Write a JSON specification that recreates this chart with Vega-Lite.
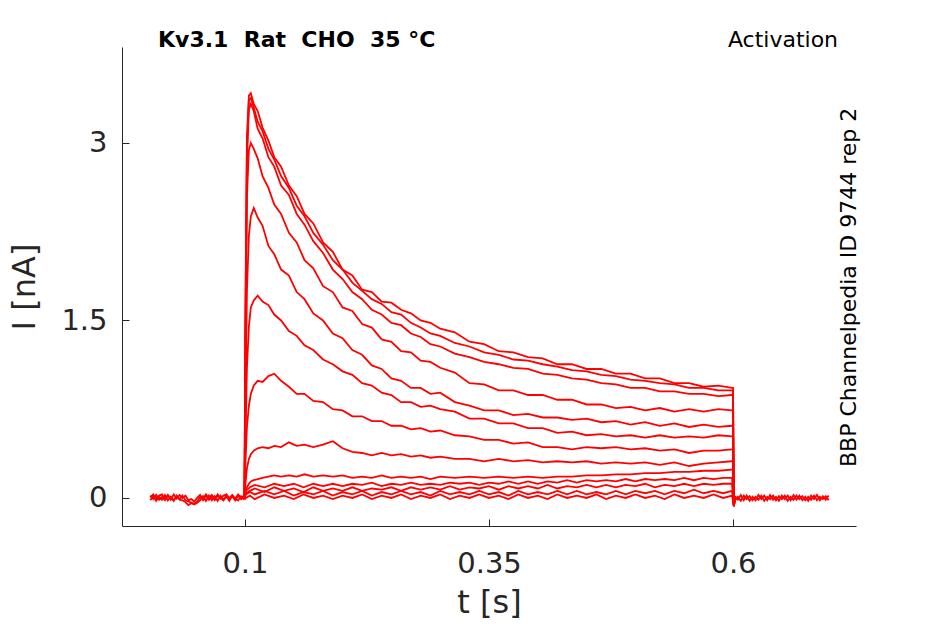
{
  "$schema": "https://vega.github.io/schema/vega-lite/v6.json",
  "description": "Kv3.1 activation current traces, Rat CHO 35 °C",
  "width": 734,
  "height": 479,
  "autosize": {"type": "none"},
  "padding": {"left": 122, "top": 47, "right": 89, "bottom": 98},
  "background": "white",
  "config": {"view": {"stroke": null}, "font": "DejaVu Sans"},
  "layer": [
    {
      "data": {"values": [
        {"s":"P1","t":0.003,"i":0.02},{"s":"P1","t":0.006,"i":-0.01},{"s":"P1","t":0.009,"i":0.025},{"s":"P1","t":0.012,"i":-0.015},{"s":"P1","t":0.015,"i":0.01},{"s":"P1","t":0.018,"i":-0.02},{"s":"P1","t":0.021,"i":0.02},{"s":"P1","t":0.024,"i":0.0},{"s":"P1","t":0.027,"i":-0.02},{"s":"P1","t":0.03,"i":0.015},{"s":"P1","t":0.033,"i":-0.01},{"s":"P1","t":0.036,"i":0.02},{"s":"P1","t":0.039,"i":-0.02},{"s":"P1","t":0.042,"i":-0.03},{"s":"P1","t":0.045,"i":-0.04},{"s":"P1","t":0.048,"i":-0.05},{"s":"P1","t":0.051,"i":-0.03},{"s":"P1","t":0.054,"i":0.01},{"s":"P1","t":0.057,"i":-0.02},{"s":"P1","t":0.06,"i":0.02},{"s":"P1","t":0.063,"i":-0.015},{"s":"P1","t":0.066,"i":0.01},{"s":"P1","t":0.069,"i":-0.02},{"s":"P1","t":0.072,"i":0.02},{"s":"P1","t":0.075,"i":0.0},{"s":"P1","t":0.078,"i":-0.02},{"s":"P1","t":0.081,"i":0.025},{"s":"P1","t":0.084,"i":-0.01},{"s":"P1","t":0.087,"i":0.015},{"s":"P1","t":0.09,"i":-0.02},{"s":"P1","t":0.093,"i":0.02},{"s":"P1","t":0.096,"i":-0.01},{"s":"P1","t":0.099,"i":0.01},
        {"s":"P2","t":0.003,"i":-0.02},{"s":"P2","t":0.006,"i":0.015},{"s":"P2","t":0.009,"i":-0.025},{"s":"P2","t":0.012,"i":0.01},{"s":"P2","t":0.015,"i":-0.015},{"s":"P2","t":0.018,"i":0.025},{"s":"P2","t":0.021,"i":-0.02},{"s":"P2","t":0.024,"i":0.01},{"s":"P2","t":0.027,"i":-0.025},{"s":"P2","t":0.03,"i":0.02},{"s":"P2","t":0.033,"i":-0.015},{"s":"P2","t":0.036,"i":-0.02},{"s":"P2","t":0.039,"i":-0.035},{"s":"P2","t":0.042,"i":-0.06},{"s":"P2","t":0.045,"i":-0.045},{"s":"P2","t":0.048,"i":-0.055},{"s":"P2","t":0.051,"i":-0.04},{"s":"P2","t":0.054,"i":-0.02},{"s":"P2","t":0.057,"i":0.015},{"s":"P2","t":0.06,"i":-0.025},{"s":"P2","t":0.063,"i":0.02},{"s":"P2","t":0.066,"i":-0.02},{"s":"P2","t":0.069,"i":0.015},{"s":"P2","t":0.072,"i":-0.025},{"s":"P2","t":0.075,"i":0.02},{"s":"P2","t":0.078,"i":-0.015},{"s":"P2","t":0.081,"i":0.01},{"s":"P2","t":0.084,"i":-0.025},{"s":"P2","t":0.087,"i":0.02},{"s":"P2","t":0.09,"i":-0.01},{"s":"P2","t":0.093,"i":-0.02},{"s":"P2","t":0.096,"i":0.015},{"s":"P2","t":0.099,"i":-0.015},
        {"s":"P3","t":0.003,"i":0.005},{"s":"P3","t":0.006,"i":0.03},{"s":"P3","t":0.009,"i":-0.005},{"s":"P3","t":0.012,"i":0.02},{"s":"P3","t":0.015,"i":0.03},{"s":"P3","t":0.018,"i":-0.01},{"s":"P3","t":0.021,"i":0.025},{"s":"P3","t":0.024,"i":-0.015},{"s":"P3","t":0.027,"i":0.03},{"s":"P3","t":0.03,"i":-0.005},{"s":"P3","t":0.033,"i":0.025},{"s":"P3","t":0.036,"i":0.0},{"s":"P3","t":0.039,"i":0.02},{"s":"P3","t":0.042,"i":-0.02},{"s":"P3","t":0.045,"i":-0.01},{"s":"P3","t":0.048,"i":-0.03},{"s":"P3","t":0.051,"i":0.0},{"s":"P3","t":0.054,"i":0.025},{"s":"P3","t":0.057,"i":-0.01},{"s":"P3","t":0.06,"i":0.03},{"s":"P3","t":0.063,"i":0.0},{"s":"P3","t":0.066,"i":0.025},{"s":"P3","t":0.069,"i":-0.01},{"s":"P3","t":0.072,"i":0.03},{"s":"P3","t":0.075,"i":-0.005},{"s":"P3","t":0.078,"i":0.02},{"s":"P3","t":0.081,"i":0.03},{"s":"P3","t":0.084,"i":0.0},{"s":"P3","t":0.087,"i":0.025},{"s":"P3","t":0.09,"i":-0.005},{"s":"P3","t":0.093,"i":0.03},{"s":"P3","t":0.096,"i":0.0},{"s":"P3","t":0.099,"i":0.02},
        {"s":"Q1","t":0.602,"i":-0.02},{"s":"Q1","t":0.605,"i":0.01},{"s":"Q1","t":0.608,"i":-0.025},{"s":"Q1","t":0.611,"i":0.02},{"s":"Q1","t":0.614,"i":-0.01},{"s":"Q1","t":0.617,"i":0.015},{"s":"Q1","t":0.62,"i":-0.02},{"s":"Q1","t":0.623,"i":0.01},{"s":"Q1","t":0.626,"i":-0.015},{"s":"Q1","t":0.629,"i":0.02},{"s":"Q1","t":0.632,"i":-0.025},{"s":"Q1","t":0.635,"i":0.01},{"s":"Q1","t":0.638,"i":-0.01},{"s":"Q1","t":0.641,"i":0.02},{"s":"Q1","t":0.644,"i":-0.02},{"s":"Q1","t":0.647,"i":0.015},{"s":"Q1","t":0.65,"i":-0.01},{"s":"Q1","t":0.653,"i":0.02},{"s":"Q1","t":0.656,"i":-0.025},{"s":"Q1","t":0.659,"i":0.01},{"s":"Q1","t":0.662,"i":-0.015},{"s":"Q1","t":0.665,"i":0.02},{"s":"Q1","t":0.668,"i":-0.01},{"s":"Q1","t":0.671,"i":0.015},{"s":"Q1","t":0.674,"i":-0.02},{"s":"Q1","t":0.677,"i":0.01},{"s":"Q1","t":0.68,"i":-0.015},{"s":"Q1","t":0.683,"i":0.02},{"s":"Q1","t":0.686,"i":-0.02},{"s":"Q1","t":0.689,"i":0.01},{"s":"Q1","t":0.692,"i":-0.01},{"s":"Q1","t":0.695,"i":0.015},{"s":"Q1","t":0.698,"i":-0.02},
        {"s":"Q2","t":0.602,"i":0.015},{"s":"Q2","t":0.605,"i":-0.015},{"s":"Q2","t":0.608,"i":0.025},{"s":"Q2","t":0.611,"i":-0.02},{"s":"Q2","t":0.614,"i":0.02},{"s":"Q2","t":0.617,"i":-0.025},{"s":"Q2","t":0.62,"i":0.01},{"s":"Q2","t":0.623,"i":-0.02},{"s":"Q2","t":0.626,"i":0.025},{"s":"Q2","t":0.629,"i":-0.01},{"s":"Q2","t":0.632,"i":0.02},{"s":"Q2","t":0.635,"i":-0.02},{"s":"Q2","t":0.638,"i":0.025},{"s":"Q2","t":0.641,"i":-0.015},{"s":"Q2","t":0.644,"i":0.01},{"s":"Q2","t":0.647,"i":-0.025},{"s":"Q2","t":0.65,"i":0.02},{"s":"Q2","t":0.653,"i":-0.01},{"s":"Q2","t":0.656,"i":0.02},{"s":"Q2","t":0.659,"i":-0.02},{"s":"Q2","t":0.662,"i":0.025},{"s":"Q2","t":0.665,"i":-0.015},{"s":"Q2","t":0.668,"i":0.02},{"s":"Q2","t":0.671,"i":-0.02},{"s":"Q2","t":0.674,"i":0.01},{"s":"Q2","t":0.677,"i":-0.025},{"s":"Q2","t":0.68,"i":0.02},{"s":"Q2","t":0.683,"i":-0.01},{"s":"Q2","t":0.686,"i":0.025},{"s":"Q2","t":0.689,"i":-0.02},{"s":"Q2","t":0.692,"i":0.015},{"s":"Q2","t":0.695,"i":-0.015},{"s":"Q2","t":0.698,"i":0.02},
        {"s":"A","t":0.0995,"i":0.01},{"s":"A","t":0.1005,"i":1.6},{"s":"A","t":0.102,"i":3.05},{"s":"A","t":0.104,"i":3.4},{"s":"A","t":0.106,"i":3.42},{"s":"A","t":0.109,"i":3.33},{"s":"A","t":0.113,"i":3.27},{"s":"A","t":0.118,"i":3.13},{"s":"A","t":0.124,"i":3.02},{"s":"A","t":0.13,"i":2.88},{"s":"A","t":0.137,"i":2.8},{"s":"A","t":0.145,"i":2.64},{"s":"A","t":0.153,"i":2.55},{"s":"A","t":0.161,"i":2.4},{"s":"A","t":0.17,"i":2.32},{"s":"A","t":0.18,"i":2.16},{"s":"A","t":0.19,"i":2.08},{"s":"A","t":0.2,"i":1.93},{"s":"A","t":0.21,"i":1.88},{"s":"A","t":0.22,"i":1.76},{"s":"A","t":0.23,"i":1.74},{"s":"A","t":0.24,"i":1.66},{"s":"A","t":0.25,"i":1.65},{"s":"A","t":0.26,"i":1.59},{"s":"A","t":0.27,"i":1.56},{"s":"A","t":0.28,"i":1.5},{"s":"A","t":0.29,"i":1.48},{"s":"A","t":0.3,"i":1.43},{"s":"A","t":0.315,"i":1.4},{"s":"A","t":0.33,"i":1.32},{"s":"A","t":0.345,"i":1.3},{"s":"A","t":0.36,"i":1.24},{"s":"A","t":0.375,"i":1.23},{"s":"A","t":0.39,"i":1.19},{"s":"A","t":0.405,"i":1.18},{"s":"A","t":0.42,"i":1.13},{"s":"A","t":0.435,"i":1.13},{"s":"A","t":0.45,"i":1.09},{"s":"A","t":0.465,"i":1.09},{"s":"A","t":0.48,"i":1.05},{"s":"A","t":0.495,"i":1.05},{"s":"A","t":0.51,"i":1.01},{"s":"A","t":0.525,"i":1.01},{"s":"A","t":0.54,"i":0.97},{"s":"A","t":0.555,"i":0.97},{"s":"A","t":0.57,"i":0.94},{"s":"A","t":0.585,"i":0.95},{"s":"A","t":0.599,"i":0.93},{"s":"A","t":0.6,"i":0.93},{"s":"A","t":0.6008,"i":-0.07},{"s":"A","t":0.602,"i":-0.01},
        {"s":"B","t":0.0995,"i":-0.01},{"s":"B","t":0.1005,"i":1.5},{"s":"B","t":0.102,"i":2.95},{"s":"B","t":0.104,"i":3.36},{"s":"B","t":0.106,"i":3.38},{"s":"B","t":0.109,"i":3.3},{"s":"B","t":0.113,"i":3.18},{"s":"B","t":0.118,"i":3.1},{"s":"B","t":0.124,"i":2.95},{"s":"B","t":0.13,"i":2.86},{"s":"B","t":0.137,"i":2.72},{"s":"B","t":0.145,"i":2.62},{"s":"B","t":0.153,"i":2.47},{"s":"B","t":0.161,"i":2.38},{"s":"B","t":0.17,"i":2.24},{"s":"B","t":0.18,"i":2.14},{"s":"B","t":0.19,"i":2.01},{"s":"B","t":0.2,"i":1.93},{"s":"B","t":0.21,"i":1.82},{"s":"B","t":0.22,"i":1.75},{"s":"B","t":0.23,"i":1.68},{"s":"B","t":0.24,"i":1.64},{"s":"B","t":0.25,"i":1.57},{"s":"B","t":0.26,"i":1.55},{"s":"B","t":0.27,"i":1.48},{"s":"B","t":0.28,"i":1.44},{"s":"B","t":0.29,"i":1.39},{"s":"B","t":0.3,"i":1.37},{"s":"B","t":0.315,"i":1.31},{"s":"B","t":0.33,"i":1.28},{"s":"B","t":0.345,"i":1.23},{"s":"B","t":0.36,"i":1.21},{"s":"B","t":0.375,"i":1.17},{"s":"B","t":0.39,"i":1.16},{"s":"B","t":0.405,"i":1.13},{"s":"B","t":0.42,"i":1.11},{"s":"B","t":0.435,"i":1.08},{"s":"B","t":0.45,"i":1.07},{"s":"B","t":0.465,"i":1.04},{"s":"B","t":0.48,"i":1.03},{"s":"B","t":0.495,"i":1.0},{"s":"B","t":0.51,"i":0.99},{"s":"B","t":0.525,"i":0.97},{"s":"B","t":0.54,"i":0.96},{"s":"B","t":0.555,"i":0.93},{"s":"B","t":0.57,"i":0.93},{"s":"B","t":0.585,"i":0.91},{"s":"B","t":0.599,"i":0.91},{"s":"B","t":0.6,"i":0.91},{"s":"B","t":0.6008,"i":-0.06},{"s":"B","t":0.602,"i":0.0},
        {"s":"C","t":0.0995,"i":0.0},{"s":"C","t":0.1005,"i":1.4},{"s":"C","t":0.102,"i":2.85},{"s":"C","t":0.104,"i":3.28},{"s":"C","t":0.106,"i":3.33},{"s":"C","t":0.109,"i":3.27},{"s":"C","t":0.113,"i":3.12},{"s":"C","t":0.118,"i":3.04},{"s":"C","t":0.124,"i":2.88},{"s":"C","t":0.13,"i":2.8},{"s":"C","t":0.137,"i":2.64},{"s":"C","t":0.145,"i":2.56},{"s":"C","t":0.153,"i":2.4},{"s":"C","t":0.161,"i":2.31},{"s":"C","t":0.17,"i":2.17},{"s":"C","t":0.18,"i":2.07},{"s":"C","t":0.19,"i":1.93},{"s":"C","t":0.2,"i":1.85},{"s":"C","t":0.21,"i":1.74},{"s":"C","t":0.22,"i":1.68},{"s":"C","t":0.23,"i":1.59},{"s":"C","t":0.24,"i":1.55},{"s":"C","t":0.25,"i":1.48},{"s":"C","t":0.26,"i":1.46},{"s":"C","t":0.27,"i":1.39},{"s":"C","t":0.28,"i":1.36},{"s":"C","t":0.29,"i":1.3},{"s":"C","t":0.3,"i":1.28},{"s":"C","t":0.315,"i":1.22},{"s":"C","t":0.33,"i":1.19},{"s":"C","t":0.345,"i":1.15},{"s":"C","t":0.36,"i":1.13},{"s":"C","t":0.375,"i":1.1},{"s":"C","t":0.39,"i":1.09},{"s":"C","t":0.405,"i":1.05},{"s":"C","t":0.42,"i":1.04},{"s":"C","t":0.435,"i":1.01},{"s":"C","t":0.45,"i":1.0},{"s":"C","t":0.465,"i":0.97},{"s":"C","t":0.48,"i":0.96},{"s":"C","t":0.495,"i":0.93},{"s":"C","t":0.51,"i":0.93},{"s":"C","t":0.525,"i":0.9},{"s":"C","t":0.54,"i":0.9},{"s":"C","t":0.555,"i":0.88},{"s":"C","t":0.57,"i":0.88},{"s":"C","t":0.585,"i":0.86},{"s":"C","t":0.599,"i":0.87},{"s":"C","t":0.6,"i":0.87},{"s":"C","t":0.6008,"i":-0.07},{"s":"C","t":0.602,"i":-0.02},
        {"s":"D","t":0.0995,"i":0.01},{"s":"D","t":0.1005,"i":1.2},{"s":"D","t":0.102,"i":2.55},{"s":"D","t":0.104,"i":2.94},{"s":"D","t":0.106,"i":3.0},{"s":"D","t":0.109,"i":2.95},{"s":"D","t":0.113,"i":2.87},{"s":"D","t":0.118,"i":2.72},{"s":"D","t":0.124,"i":2.62},{"s":"D","t":0.13,"i":2.48},{"s":"D","t":0.137,"i":2.4},{"s":"D","t":0.145,"i":2.24},{"s":"D","t":0.153,"i":2.16},{"s":"D","t":0.161,"i":2.01},{"s":"D","t":0.17,"i":1.94},{"s":"D","t":0.18,"i":1.79},{"s":"D","t":0.19,"i":1.74},{"s":"D","t":0.2,"i":1.61},{"s":"D","t":0.21,"i":1.58},{"s":"D","t":0.22,"i":1.47},{"s":"D","t":0.23,"i":1.44},{"s":"D","t":0.24,"i":1.34},{"s":"D","t":0.25,"i":1.32},{"s":"D","t":0.26,"i":1.24},{"s":"D","t":0.27,"i":1.23},{"s":"D","t":0.28,"i":1.16},{"s":"D","t":0.29,"i":1.15},{"s":"D","t":0.3,"i":1.1},{"s":"D","t":0.315,"i":1.06},{"s":"D","t":0.33,"i":0.97},{"s":"D","t":0.345,"i":0.96},{"s":"D","t":0.36,"i":0.91},{"s":"D","t":0.375,"i":0.91},{"s":"D","t":0.39,"i":0.87},{"s":"D","t":0.405,"i":0.87},{"s":"D","t":0.42,"i":0.83},{"s":"D","t":0.435,"i":0.83},{"s":"D","t":0.45,"i":0.79},{"s":"D","t":0.465,"i":0.79},{"s":"D","t":0.48,"i":0.76},{"s":"D","t":0.495,"i":0.77},{"s":"D","t":0.51,"i":0.74},{"s":"D","t":0.525,"i":0.76},{"s":"D","t":0.54,"i":0.73},{"s":"D","t":0.555,"i":0.75},{"s":"D","t":0.57,"i":0.73},{"s":"D","t":0.585,"i":0.75},{"s":"D","t":0.599,"i":0.74},{"s":"D","t":0.6,"i":0.74},{"s":"D","t":0.6008,"i":-0.06},{"s":"D","t":0.602,"i":0.01},
        {"s":"E","t":0.0995,"i":-0.01},{"s":"E","t":0.1005,"i":0.8},{"s":"E","t":0.102,"i":1.75},{"s":"E","t":0.104,"i":2.22},{"s":"E","t":0.106,"i":2.38},{"s":"E","t":0.109,"i":2.45},{"s":"E","t":0.113,"i":2.37},{"s":"E","t":0.118,"i":2.3},{"s":"E","t":0.124,"i":2.13},{"s":"E","t":0.13,"i":2.06},{"s":"E","t":0.137,"i":1.93},{"s":"E","t":0.145,"i":1.88},{"s":"E","t":0.153,"i":1.74},{"s":"E","t":0.161,"i":1.68},{"s":"E","t":0.17,"i":1.56},{"s":"E","t":0.18,"i":1.5},{"s":"E","t":0.19,"i":1.39},{"s":"E","t":0.2,"i":1.35},{"s":"E","t":0.21,"i":1.25},{"s":"E","t":0.22,"i":1.21},{"s":"E","t":0.23,"i":1.12},{"s":"E","t":0.24,"i":1.09},{"s":"E","t":0.25,"i":1.01},{"s":"E","t":0.26,"i":0.99},{"s":"E","t":0.27,"i":0.93},{"s":"E","t":0.28,"i":0.93},{"s":"E","t":0.29,"i":0.88},{"s":"E","t":0.3,"i":0.89},{"s":"E","t":0.315,"i":0.81},{"s":"E","t":0.33,"i":0.78},{"s":"E","t":0.345,"i":0.74},{"s":"E","t":0.36,"i":0.74},{"s":"E","t":0.375,"i":0.7},{"s":"E","t":0.39,"i":0.71},{"s":"E","t":0.405,"i":0.68},{"s":"E","t":0.42,"i":0.68},{"s":"E","t":0.435,"i":0.66},{"s":"E","t":0.45,"i":0.67},{"s":"E","t":0.465,"i":0.64},{"s":"E","t":0.48,"i":0.65},{"s":"E","t":0.495,"i":0.62},{"s":"E","t":0.51,"i":0.64},{"s":"E","t":0.525,"i":0.61},{"s":"E","t":0.54,"i":0.63},{"s":"E","t":0.555,"i":0.6},{"s":"E","t":0.57,"i":0.62},{"s":"E","t":0.585,"i":0.6},{"s":"E","t":0.599,"i":0.61},{"s":"E","t":0.6,"i":0.61},{"s":"E","t":0.6008,"i":-0.07},{"s":"E","t":0.602,"i":-0.01},
        {"s":"F","t":0.0995,"i":0.0},{"s":"F","t":0.1005,"i":0.5},{"s":"F","t":0.102,"i":1.1},{"s":"F","t":0.104,"i":1.45},{"s":"F","t":0.106,"i":1.61},{"s":"F","t":0.109,"i":1.67},{"s":"F","t":0.113,"i":1.71},{"s":"F","t":0.118,"i":1.66},{"s":"F","t":0.124,"i":1.63},{"s":"F","t":0.13,"i":1.55},{"s":"F","t":0.137,"i":1.5},{"s":"F","t":0.145,"i":1.41},{"s":"F","t":0.153,"i":1.37},{"s":"F","t":0.161,"i":1.29},{"s":"F","t":0.17,"i":1.25},{"s":"F","t":0.18,"i":1.17},{"s":"F","t":0.19,"i":1.13},{"s":"F","t":0.2,"i":1.07},{"s":"F","t":0.21,"i":1.04},{"s":"F","t":0.22,"i":0.97},{"s":"F","t":0.23,"i":0.95},{"s":"F","t":0.24,"i":0.89},{"s":"F","t":0.25,"i":0.87},{"s":"F","t":0.26,"i":0.81},{"s":"F","t":0.27,"i":0.81},{"s":"F","t":0.28,"i":0.77},{"s":"F","t":0.29,"i":0.78},{"s":"F","t":0.3,"i":0.75},{"s":"F","t":0.315,"i":0.73},{"s":"F","t":0.33,"i":0.67},{"s":"F","t":0.345,"i":0.67},{"s":"F","t":0.36,"i":0.63},{"s":"F","t":0.375,"i":0.63},{"s":"F","t":0.39,"i":0.59},{"s":"F","t":0.405,"i":0.59},{"s":"F","t":0.42,"i":0.55},{"s":"F","t":0.435,"i":0.56},{"s":"F","t":0.45,"i":0.53},{"s":"F","t":0.465,"i":0.54},{"s":"F","t":0.48,"i":0.52},{"s":"F","t":0.495,"i":0.53},{"s":"F","t":0.51,"i":0.51},{"s":"F","t":0.525,"i":0.53},{"s":"F","t":0.54,"i":0.51},{"s":"F","t":0.555,"i":0.52},{"s":"F","t":0.57,"i":0.51},{"s":"F","t":0.585,"i":0.53},{"s":"F","t":0.599,"i":0.52},{"s":"F","t":0.6,"i":0.52},{"s":"F","t":0.6008,"i":-0.06},{"s":"F","t":0.602,"i":0.0},
        {"s":"G","t":0.0995,"i":0.01},{"s":"G","t":0.1005,"i":0.3},{"s":"G","t":0.102,"i":0.6},{"s":"G","t":0.104,"i":0.78},{"s":"G","t":0.106,"i":0.88},{"s":"G","t":0.109,"i":0.95},{"s":"G","t":0.113,"i":0.99},{"s":"G","t":0.118,"i":0.98},{"s":"G","t":0.124,"i":1.03},{"s":"G","t":0.13,"i":1.05},{"s":"G","t":0.137,"i":0.99},{"s":"G","t":0.145,"i":0.94},{"s":"G","t":0.153,"i":0.88},{"s":"G","t":0.161,"i":0.88},{"s":"G","t":0.17,"i":0.82},{"s":"G","t":0.18,"i":0.81},{"s":"G","t":0.19,"i":0.75},{"s":"G","t":0.2,"i":0.74},{"s":"G","t":0.21,"i":0.69},{"s":"G","t":0.22,"i":0.69},{"s":"G","t":0.23,"i":0.65},{"s":"G","t":0.24,"i":0.65},{"s":"G","t":0.25,"i":0.61},{"s":"G","t":0.26,"i":0.61},{"s":"G","t":0.27,"i":0.58},{"s":"G","t":0.28,"i":0.59},{"s":"G","t":0.29,"i":0.56},{"s":"G","t":0.3,"i":0.57},{"s":"G","t":0.315,"i":0.53},{"s":"G","t":0.33,"i":0.52},{"s":"G","t":0.345,"i":0.49},{"s":"G","t":0.36,"i":0.49},{"s":"G","t":0.375,"i":0.46},{"s":"G","t":0.39,"i":0.47},{"s":"G","t":0.405,"i":0.43},{"s":"G","t":0.42,"i":0.43},{"s":"G","t":0.435,"i":0.41},{"s":"G","t":0.45,"i":0.43},{"s":"G","t":0.465,"i":0.42},{"s":"G","t":0.48,"i":0.43},{"s":"G","t":0.495,"i":0.41},{"s":"G","t":0.51,"i":0.42},{"s":"G","t":0.525,"i":0.4},{"s":"G","t":0.54,"i":0.41},{"s":"G","t":0.555,"i":0.38},{"s":"G","t":0.57,"i":0.4},{"s":"G","t":0.585,"i":0.4},{"s":"G","t":0.599,"i":0.41},{"s":"G","t":0.6,"i":0.41},{"s":"G","t":0.6008,"i":-0.07},{"s":"G","t":0.602,"i":-0.01},
        {"s":"H","t":0.0995,"i":-0.01},{"s":"H","t":0.1005,"i":0.12},{"s":"H","t":0.102,"i":0.25},{"s":"H","t":0.104,"i":0.33},{"s":"H","t":0.106,"i":0.37},{"s":"H","t":0.109,"i":0.4},{"s":"H","t":0.113,"i":0.42},{"s":"H","t":0.118,"i":0.43},{"s":"H","t":0.124,"i":0.42},{"s":"H","t":0.13,"i":0.44},{"s":"H","t":0.137,"i":0.43},{"s":"H","t":0.145,"i":0.47},{"s":"H","t":0.153,"i":0.44},{"s":"H","t":0.161,"i":0.45},{"s":"H","t":0.17,"i":0.43},{"s":"H","t":0.18,"i":0.45},{"s":"H","t":0.19,"i":0.48},{"s":"H","t":0.2,"i":0.42},{"s":"H","t":0.21,"i":0.39},{"s":"H","t":0.22,"i":0.38},{"s":"H","t":0.23,"i":0.36},{"s":"H","t":0.24,"i":0.38},{"s":"H","t":0.25,"i":0.36},{"s":"H","t":0.26,"i":0.37},{"s":"H","t":0.27,"i":0.35},{"s":"H","t":0.28,"i":0.36},{"s":"H","t":0.29,"i":0.34},{"s":"H","t":0.3,"i":0.35},{"s":"H","t":0.315,"i":0.33},{"s":"H","t":0.33,"i":0.33},{"s":"H","t":0.345,"i":0.31},{"s":"H","t":0.36,"i":0.33},{"s":"H","t":0.375,"i":0.31},{"s":"H","t":0.39,"i":0.32},{"s":"H","t":0.405,"i":0.3},{"s":"H","t":0.42,"i":0.31},{"s":"H","t":0.435,"i":0.3},{"s":"H","t":0.45,"i":0.31},{"s":"H","t":0.465,"i":0.29},{"s":"H","t":0.48,"i":0.3},{"s":"H","t":0.495,"i":0.29},{"s":"H","t":0.51,"i":0.3},{"s":"H","t":0.525,"i":0.28},{"s":"H","t":0.54,"i":0.3},{"s":"H","t":0.555,"i":0.27},{"s":"H","t":0.57,"i":0.29},{"s":"H","t":0.585,"i":0.3},{"s":"H","t":0.599,"i":0.31},{"s":"H","t":0.6,"i":0.31},{"s":"H","t":0.6008,"i":-0.06},{"s":"H","t":0.602,"i":0.0},
        {"s":"I","t":0.0995,"i":0.0},{"s":"I","t":0.1005,"i":0.05},{"s":"I","t":0.102,"i":0.09},{"s":"I","t":0.104,"i":0.12},{"s":"I","t":0.106,"i":0.14},{"s":"I","t":0.109,"i":0.15},{"s":"I","t":0.113,"i":0.16},{"s":"I","t":0.118,"i":0.17},{"s":"I","t":0.124,"i":0.18},{"s":"I","t":0.13,"i":0.19},{"s":"I","t":0.137,"i":0.18},{"s":"I","t":0.145,"i":0.19},{"s":"I","t":0.153,"i":0.18},{"s":"I","t":0.161,"i":0.2},{"s":"I","t":0.17,"i":0.18},{"s":"I","t":0.18,"i":0.19},{"s":"I","t":0.19,"i":0.18},{"s":"I","t":0.2,"i":0.19},{"s":"I","t":0.21,"i":0.17},{"s":"I","t":0.22,"i":0.18},{"s":"I","t":0.23,"i":0.17},{"s":"I","t":0.24,"i":0.19},{"s":"I","t":0.25,"i":0.17},{"s":"I","t":0.26,"i":0.18},{"s":"I","t":0.27,"i":0.17},{"s":"I","t":0.28,"i":0.18},{"s":"I","t":0.29,"i":0.16},{"s":"I","t":0.3,"i":0.18},{"s":"I","t":0.315,"i":0.17},{"s":"I","t":0.33,"i":0.18},{"s":"I","t":0.345,"i":0.17},{"s":"I","t":0.36,"i":0.18},{"s":"I","t":0.375,"i":0.17},{"s":"I","t":0.39,"i":0.18},{"s":"I","t":0.405,"i":0.17},{"s":"I","t":0.42,"i":0.18},{"s":"I","t":0.435,"i":0.18},{"s":"I","t":0.45,"i":0.19},{"s":"I","t":0.465,"i":0.19},{"s":"I","t":0.48,"i":0.2},{"s":"I","t":0.495,"i":0.2},{"s":"I","t":0.51,"i":0.21},{"s":"I","t":0.525,"i":0.21},{"s":"I","t":0.54,"i":0.22},{"s":"I","t":0.555,"i":0.22},{"s":"I","t":0.57,"i":0.23},{"s":"I","t":0.585,"i":0.23},{"s":"I","t":0.599,"i":0.24},{"s":"I","t":0.6,"i":0.24},{"s":"I","t":0.6008,"i":-0.05},{"s":"I","t":0.602,"i":0.0},
        {"s":"J","t":0.0995,"i":0.0},{"s":"J","t":0.101,"i":0.06},{"s":"J","t":0.105,"i":0.09},{"s":"J","t":0.11,"i":0.11},{"s":"J","t":0.12,"i":0.09},{"s":"J","t":0.13,"i":0.12},{"s":"J","t":0.14,"i":0.1},{"s":"J","t":0.15,"i":0.12},{"s":"J","t":0.16,"i":0.09},{"s":"J","t":0.17,"i":0.12},{"s":"J","t":0.18,"i":0.1},{"s":"J","t":0.19,"i":0.12},{"s":"J","t":0.2,"i":0.1},{"s":"J","t":0.21,"i":0.12},{"s":"J","t":0.22,"i":0.11},{"s":"J","t":0.23,"i":0.13},{"s":"J","t":0.24,"i":0.1},{"s":"J","t":0.25,"i":0.12},{"s":"J","t":0.26,"i":0.11},{"s":"J","t":0.27,"i":0.13},{"s":"J","t":0.28,"i":0.11},{"s":"J","t":0.29,"i":0.12},{"s":"J","t":0.3,"i":0.11},{"s":"J","t":0.31,"i":0.13},{"s":"J","t":0.32,"i":0.12},{"s":"J","t":0.33,"i":0.13},{"s":"J","t":0.34,"i":0.11},{"s":"J","t":0.35,"i":0.13},{"s":"J","t":0.36,"i":0.12},{"s":"J","t":0.37,"i":0.14},{"s":"J","t":0.38,"i":0.12},{"s":"J","t":0.39,"i":0.14},{"s":"J","t":0.4,"i":0.12},{"s":"J","t":0.41,"i":0.14},{"s":"J","t":0.42,"i":0.13},{"s":"J","t":0.43,"i":0.15},{"s":"J","t":0.44,"i":0.13},{"s":"J","t":0.45,"i":0.15},{"s":"J","t":0.46,"i":0.14},{"s":"J","t":0.47,"i":0.15},{"s":"J","t":0.48,"i":0.14},{"s":"J","t":0.49,"i":0.16},{"s":"J","t":0.5,"i":0.14},{"s":"J","t":0.51,"i":0.16},{"s":"J","t":0.52,"i":0.15},{"s":"J","t":0.53,"i":0.16},{"s":"J","t":0.54,"i":0.15},{"s":"J","t":0.55,"i":0.17},{"s":"J","t":0.56,"i":0.15},{"s":"J","t":0.57,"i":0.17},{"s":"J","t":0.58,"i":0.16},{"s":"J","t":0.59,"i":0.17},{"s":"J","t":0.599,"i":0.17},{"s":"J","t":0.6008,"i":-0.05},{"s":"J","t":0.602,"i":0.0},
        {"s":"K","t":0.0995,"i":-0.01},{"s":"K","t":0.101,"i":0.04},{"s":"K","t":0.105,"i":0.06},{"s":"K","t":0.11,"i":0.08},{"s":"K","t":0.12,"i":0.05},{"s":"K","t":0.13,"i":0.09},{"s":"K","t":0.14,"i":0.06},{"s":"K","t":0.15,"i":0.08},{"s":"K","t":0.16,"i":0.05},{"s":"K","t":0.17,"i":0.09},{"s":"K","t":0.18,"i":0.06},{"s":"K","t":0.19,"i":0.08},{"s":"K","t":0.2,"i":0.06},{"s":"K","t":0.21,"i":0.09},{"s":"K","t":0.22,"i":0.06},{"s":"K","t":0.23,"i":0.08},{"s":"K","t":0.24,"i":0.07},{"s":"K","t":0.25,"i":0.09},{"s":"K","t":0.26,"i":0.06},{"s":"K","t":0.27,"i":0.09},{"s":"K","t":0.28,"i":0.07},{"s":"K","t":0.29,"i":0.09},{"s":"K","t":0.3,"i":0.07},{"s":"K","t":0.31,"i":0.1},{"s":"K","t":0.32,"i":0.07},{"s":"K","t":0.33,"i":0.09},{"s":"K","t":0.34,"i":0.08},{"s":"K","t":0.35,"i":0.1},{"s":"K","t":0.36,"i":0.07},{"s":"K","t":0.37,"i":0.1},{"s":"K","t":0.38,"i":0.08},{"s":"K","t":0.39,"i":0.1},{"s":"K","t":0.4,"i":0.08},{"s":"K","t":0.41,"i":0.11},{"s":"K","t":0.42,"i":0.08},{"s":"K","t":0.43,"i":0.1},{"s":"K","t":0.44,"i":0.09},{"s":"K","t":0.45,"i":0.11},{"s":"K","t":0.46,"i":0.09},{"s":"K","t":0.47,"i":0.11},{"s":"K","t":0.48,"i":0.09},{"s":"K","t":0.49,"i":0.11},{"s":"K","t":0.5,"i":0.1},{"s":"K","t":0.51,"i":0.12},{"s":"K","t":0.52,"i":0.09},{"s":"K","t":0.53,"i":0.11},{"s":"K","t":0.54,"i":0.1},{"s":"K","t":0.55,"i":0.12},{"s":"K","t":0.56,"i":0.1},{"s":"K","t":0.57,"i":0.12},{"s":"K","t":0.58,"i":0.11},{"s":"K","t":0.59,"i":0.12},{"s":"K","t":0.599,"i":0.12},{"s":"K","t":0.6008,"i":-0.06},{"s":"K","t":0.602,"i":-0.01},
        {"s":"L","t":0.0995,"i":0.01},{"s":"L","t":0.101,"i":0.03},{"s":"L","t":0.105,"i":0.05},{"s":"L","t":0.11,"i":0.03},{"s":"L","t":0.12,"i":0.06},{"s":"L","t":0.13,"i":0.03},{"s":"L","t":0.14,"i":0.06},{"s":"L","t":0.15,"i":0.02},{"s":"L","t":0.16,"i":0.05},{"s":"L","t":0.17,"i":0.03},{"s":"L","t":0.18,"i":0.06},{"s":"L","t":0.19,"i":0.02},{"s":"L","t":0.2,"i":0.05},{"s":"L","t":0.21,"i":0.03},{"s":"L","t":0.22,"i":0.06},{"s":"L","t":0.23,"i":0.02},{"s":"L","t":0.24,"i":0.05},{"s":"L","t":0.25,"i":0.03},{"s":"L","t":0.26,"i":0.06},{"s":"L","t":0.27,"i":0.03},{"s":"L","t":0.28,"i":0.05},{"s":"L","t":0.29,"i":0.02},{"s":"L","t":0.3,"i":0.06},{"s":"L","t":0.31,"i":0.03},{"s":"L","t":0.32,"i":0.05},{"s":"L","t":0.33,"i":0.03},{"s":"L","t":0.34,"i":0.06},{"s":"L","t":0.35,"i":0.03},{"s":"L","t":0.36,"i":0.05},{"s":"L","t":0.37,"i":0.02},{"s":"L","t":0.38,"i":0.06},{"s":"L","t":0.39,"i":0.03},{"s":"L","t":0.4,"i":0.05},{"s":"L","t":0.41,"i":0.03},{"s":"L","t":0.42,"i":0.06},{"s":"L","t":0.43,"i":0.03},{"s":"L","t":0.44,"i":0.06},{"s":"L","t":0.45,"i":0.03},{"s":"L","t":0.46,"i":0.05},{"s":"L","t":0.47,"i":0.03},{"s":"L","t":0.48,"i":0.06},{"s":"L","t":0.49,"i":0.03},{"s":"L","t":0.5,"i":0.06},{"s":"L","t":0.51,"i":0.04},{"s":"L","t":0.52,"i":0.06},{"s":"L","t":0.53,"i":0.03},{"s":"L","t":0.54,"i":0.06},{"s":"L","t":0.55,"i":0.04},{"s":"L","t":0.56,"i":0.07},{"s":"L","t":0.57,"i":0.04},{"s":"L","t":0.58,"i":0.06},{"s":"L","t":0.59,"i":0.04},{"s":"L","t":0.599,"i":0.06},{"s":"L","t":0.6008,"i":-0.05},{"s":"L","t":0.602,"i":0.01},
        {"s":"M","t":0.0995,"i":-0.01},{"s":"M","t":0.101,"i":0.0},{"s":"M","t":0.105,"i":0.02},{"s":"M","t":0.11,"i":-0.01},{"s":"M","t":0.12,"i":0.03},{"s":"M","t":0.13,"i":0.0},{"s":"M","t":0.14,"i":0.02},{"s":"M","t":0.15,"i":-0.01},{"s":"M","t":0.16,"i":0.03},{"s":"M","t":0.17,"i":0.0},{"s":"M","t":0.18,"i":0.02},{"s":"M","t":0.19,"i":-0.01},{"s":"M","t":0.2,"i":0.02},{"s":"M","t":0.21,"i":0.0},{"s":"M","t":0.22,"i":0.03},{"s":"M","t":0.23,"i":-0.01},{"s":"M","t":0.24,"i":0.02},{"s":"M","t":0.25,"i":0.0},{"s":"M","t":0.26,"i":0.03},{"s":"M","t":0.27,"i":-0.01},{"s":"M","t":0.28,"i":0.02},{"s":"M","t":0.29,"i":0.0},{"s":"M","t":0.3,"i":0.03},{"s":"M","t":0.31,"i":-0.01},{"s":"M","t":0.32,"i":0.02},{"s":"M","t":0.33,"i":0.0},{"s":"M","t":0.34,"i":0.03},{"s":"M","t":0.35,"i":0.0},{"s":"M","t":0.36,"i":0.02},{"s":"M","t":0.37,"i":-0.01},{"s":"M","t":0.38,"i":0.03},{"s":"M","t":0.39,"i":0.0},{"s":"M","t":0.4,"i":0.02},{"s":"M","t":0.41,"i":-0.01},{"s":"M","t":0.42,"i":0.03},{"s":"M","t":0.43,"i":0.0},{"s":"M","t":0.44,"i":0.02},{"s":"M","t":0.45,"i":0.0},{"s":"M","t":0.46,"i":0.03},{"s":"M","t":0.47,"i":-0.01},{"s":"M","t":0.48,"i":0.02},{"s":"M","t":0.49,"i":0.0},{"s":"M","t":0.5,"i":0.03},{"s":"M","t":0.51,"i":0.0},{"s":"M","t":0.52,"i":0.02},{"s":"M","t":0.53,"i":-0.01},{"s":"M","t":0.54,"i":0.03},{"s":"M","t":0.55,"i":0.0},{"s":"M","t":0.56,"i":0.02},{"s":"M","t":0.57,"i":0.0},{"s":"M","t":0.58,"i":0.03},{"s":"M","t":0.59,"i":0.0},{"s":"M","t":0.599,"i":0.02},{"s":"M","t":0.6008,"i":-0.06},{"s":"M","t":0.602,"i":-0.01}
      ]},
      "mark": {"type": "line", "color": "#ff0000", "strokeWidth": 1.8},
      "encoding": {
        "x": {
          "field": "t",
          "type": "quantitative",
          "scale": {"domain": [-0.026, 0.726], "nice": false, "zero": false},
          "axis": {
            "values": [0.1, 0.35, 0.6],
            "format": "~g",
            "title": "t [s]",
            "grid": false,
            "domainColor": "#262626",
            "tickColor": "#262626",
            "tickSize": -7,
            "labelPadding": 30,
            "labelFontSize": 29,
            "labelColor": "#262626",
            "titleFontSize": 32,
            "titleFontWeight": "normal",
            "titleColor": "#262626",
            "titlePadding": 9
          }
        },
        "y": {
          "field": "i",
          "type": "quantitative",
          "scale": {"domain": [-0.237, 3.811], "nice": false, "zero": false},
          "axis": {
            "values": [0, 1.5, 3],
            "format": "~g",
            "title": "I [nA]",
            "grid": false,
            "domainColor": "#262626",
            "tickColor": "#262626",
            "tickSize": -7,
            "labelPadding": 22,
            "labelFontSize": 29,
            "labelColor": "#262626",
            "titleFontSize": 32,
            "titleFontWeight": "normal",
            "titleColor": "#262626",
            "titlePadding": 19
          }
        },
        "detail": {"field": "s", "type": "nominal"}
      }
    },
    {
      "data": {"values": [{}]},
      "mark": {"type": "text", "text": "Kv3.1\u00a0\u00a0Rat\u00a0\u00a0CHO\u00a0\u00a035 °C", "fontSize": 22, "fontWeight": "bold", "align": "left", "baseline": "alphabetic", "color": "#000000"},
      "encoding": {
        "x": {"datum": 0.0109, "type": "quantitative", "title": "t [s]"},
        "y": {"datum": 3.811, "type": "quantitative", "title": "I [nA]"}
      }
    },
    {
      "data": {"values": [{}]},
      "mark": {"type": "text", "text": "Activation", "fontSize": 22, "align": "right", "baseline": "alphabetic", "color": "#000000"},
      "encoding": {
        "x": {"datum": 0.7076, "type": "quantitative", "title": "t [s]"},
        "y": {"datum": 3.811, "type": "quantitative", "title": "I [nA]"}
      }
    },
    {
      "data": {"values": [{}]},
      "mark": {"type": "text", "text": "BBP Channelpedia ID 9744 rep 2", "fontSize": 22, "angle": 270, "align": "center", "baseline": "alphabetic", "color": "#000000"},
      "encoding": {
        "x": {"datum": 0.726, "type": "quantitative", "title": "t [s]"},
        "y": {"datum": 1.78, "type": "quantitative", "title": "I [nA]"}
      }
    }
  ]
}
